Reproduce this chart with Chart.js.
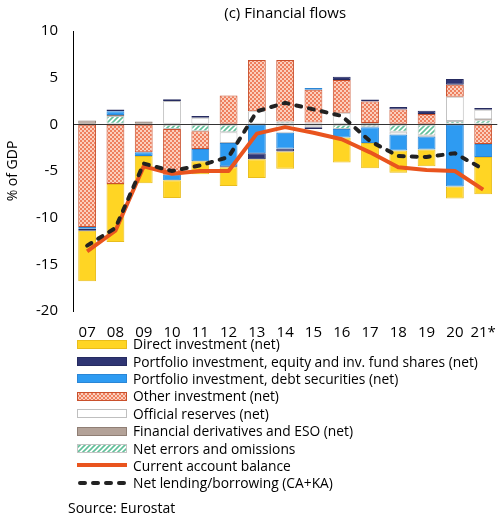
<!DOCTYPE html>
<html>
<head>
<meta charset="utf-8">
<script src="https://cdn.jsdelivr.net/npm/chart.js@4.4.1/dist/chart.umd.min.js"></script>
<style>
  body { margin: 0; background: #fff; font-family: "Open Sans", sans-serif; }
  #wrap { position: relative; width: 501px; height: 520px; }
  #chart { position: absolute; left: 0; top: 0; }
  #legend { position: absolute; left: 77px; top: 335px; }
  .row { display: flex; align-items: center; height: 17.4px; font-size: 13.8px; color: #000; white-space: nowrap; }
  .row canvas { width: 50px; height: 10px; margin-right: 6px; }
  #source { position: absolute; left: 68px; top: 498px; font-size: 14px; color: #000; }
</style>
</head>
<body>
<div id="wrap">
  <canvas id="chart" width="501" height="350"></canvas>
  <div id="legend"></div>
  <div id="source">Source: Eurostat</div>
</div>
<script>
// years on the x axis
const categories = ['07', '08', '09', '10', '11', '12', '13', '14', '15', '16', '17', '18', '19', '20', '21*'];
const yTicks = [10, 5, 0, -5, -10, -15, -20];

// financial account components, % of GDP
const directInvestment = [-5.4, -6.2, -2.9, -1.9, -1.4, -2.0, -2.0, -1.85, 0, -2.7, -2.7, -2.4, -1.8, -1.3, -4.0];
const portfolioEquity = [-0.2, 0.2, 0, 0.2, 0.2, -0.1, -0.65, -0.3, -0.2, 0.35, 0.2, 0.25, 0.35, 0.6, 0.2];
const portfolioDebt = [-0.2, 0.4, -0.4, -0.6, -1.3, -2.5, -3.1, -1.7, 0.2, -0.9, -1.7, -1.7, -1.4, -6.65, -1.4];
const otherInvestment = [-11.0, -6.4, -3.0, -4.9, -1.9, 3.1, 5.5, 6.6, 3.5, 3.5, 2.3, 1.6, 1.1, 1.3, -2.1];
const officialReserves = [0, 0, 0, 2.5, 0.7, -1.15, 1.4, -0.9, -0.3, 1.25, 0, -0.3, 0, 2.6, 1.0];
const derivatives = [0.4, 0.1, 0.3, 0, 0, 0, 0, 0, 0, 0, 0.15, 0, -0.1, 0, 0.1];
const errorsOmissions = [0, 0.9, 0, -0.5, -0.75, -0.85, 0, 0.3, 0.2, -0.5, -0.3, -0.8, -1.2, 0.35, 0.45];

// lines
const currentAccount = [-13.6, -11.4, -4.5, -5.3, -5.0, -5.0, -1.0, -0.3, -0.9, -1.6, -3.0, -4.6, -4.9, -5.0, -7.0];
const netLending = [-13.0, -11.1, -4.2, -5.0, -4.4, -3.5, 1.4, 2.3, 1.6, 0.9, -1.8, -3.4, -3.5, -3.1, -4.8];

const FONT = '"Open Sans", sans-serif';

// pattern fills
function checkerPattern() {
    const c = document.createElement('canvas');
    c.width = 4; c.height = 4;
    const g = c.getContext('2d');
    g.fillStyle = '#fbcfbd';
    g.fillRect(0, 0, 4, 4);
    g.fillStyle = '#ee7f5e';
    g.fillRect(0, 0, 2, 2);
    g.fillRect(2, 2, 2, 2);
    return g.createPattern(c, 'repeat');
}

function hatchPattern() {
    const c = document.createElement('canvas');
    c.width = 5; c.height = 5;
    const g = c.getContext('2d');
    g.fillStyle = '#ffffff';
    g.fillRect(0, 0, 5, 5);
    g.strokeStyle = '#62c09a';
    g.lineWidth = 1.6;
    g.beginPath();
    g.moveTo(-1, 6); g.lineTo(6, -1);
    g.moveTo(-1, 1); g.lineTo(1, -1);
    g.moveTo(4, 6); g.lineTo(6, 4);
    g.stroke();
    return g.createPattern(c, 'repeat');
}

const otherFill = checkerPattern();
const hatchFill = hatchPattern();

const barStyles = [
    { label: 'Net errors and omissions', data: errorsOmissions, fill: hatchFill, border: '#c4c4c4' },
    { label: 'Financial derivatives and ESO (net)', data: derivatives, fill: '#b3a298', border: '#8f7e74' },
    { label: 'Official reserves (net)', data: officialReserves, fill: '#ffffff', border: '#bfbfbf' },
    { label: 'Other investment (net)', data: otherInvestment, fill: otherFill, border: '#c9502c' },
    { label: 'Portfolio investment, debt securities (net)', data: portfolioDebt, fill: '#2e9bf2', border: '#2a86d6' },
    { label: 'Portfolio investment, equity and inv. fund shares (net)', data: portfolioEquity, fill: '#2f3573', border: '#262b60' },
    { label: 'Direct investment (net)', data: directInvestment, fill: '#ffd524', border: '#e9bd1c' }
];

const datasets = [
    {
        type: 'line', label: 'Net lending/borrowing (CA+KA)', data: netLending,
        borderColor: '#222222', borderWidth: 4, borderDash: [5, 8], borderCapStyle: 'round',
        pointRadius: 0, tension: 0, fill: false, stack: 'nl', order: 0
    },
    {
        type: 'line', label: 'Current account balance', data: currentAccount,
        borderColor: '#e9541e', borderWidth: 4, borderJoinStyle: 'round',
        pointRadius: 0, tension: 0, fill: false, stack: 'ca', order: 1
    }
];
barStyles.forEach(s => {
    datasets.push({
        type: 'bar', label: s.label,
        data: s.data.map(v => v === 0 ? null : v),
        backgroundColor: s.fill, borderColor: s.border, borderWidth: 1,
        borderSkipped: false, barPercentage: 0.63, categoryPercentage: 1, order: 2
    });
});

new Chart(document.getElementById('chart'), {
    data: { labels: categories, datasets: datasets },
    options: {
        responsive: false,
        animation: false,
        devicePixelRatio: 1,
        layout: { padding: 0 },
        plugins: {
            legend: { display: false },
            tooltip: { enabled: false },
            title: {
                display: true, text: '(c) Financial flows', fullSize: false,
                color: '#000', font: { family: FONT, size: 15, weight: 'normal' },
                padding: { top: 5, bottom: 8 }
            }
        },
        scales: {
            x: {
                stacked: true,
                grid: { display: false },
                border: { display: false },
                ticks: { color: '#000', font: { family: FONT, size: 15 }, padding: 5, maxRotation: 0, autoSkip: false },
                afterFit: scale => { scale.height = 39; }
            },
            y: {
                stacked: true,
                min: -20, max: 10,
                z: 1,
                afterBuildTicks: scale => { scale.ticks = yTicks.map(v => ({ value: v })); },
                grid: {
                    drawTicks: false,
                    color: c => (c.tick && c.tick.value === 0) ? '#333333' : 'rgba(0,0,0,0)',
                    lineWidth: 1
                },
                border: { display: true, color: '#000', width: 1 },
                ticks: { color: '#000', font: { family: FONT, size: 15 }, padding: 15 },
                title: {
                    display: true, text: '% of GDP', color: '#000',
                    font: { family: FONT, size: 14 }, padding: { top: 5, bottom: 0 }
                },
                afterFit: scale => { scale.width = 73; }
            }
        }
    }
});

// html legend
const legendItems = [
    { text: 'Direct investment (net)', fill: '#ffd524', border: '#e9bd1c' },
    { text: 'Portfolio investment, equity and inv. fund shares (net)', fill: '#2f3573', border: '#262b60' },
    { text: 'Portfolio investment, debt securities (net)', fill: '#2e9bf2', border: '#2a86d6' },
    { text: 'Other investment (net)', fill: otherFill, border: '#c9502c' },
    { text: 'Official reserves (net)', fill: '#ffffff', border: '#bfbfbf' },
    { text: 'Financial derivatives and ESO (net)', fill: '#b3a298', border: '#8f7e74' },
    { text: 'Net errors and omissions', fill: hatchFill, border: '#c4c4c4' },
    { text: 'Current account balance', line: '#e9541e' },
    { text: 'Net lending/borrowing (CA+KA)', line: '#222222', dash: true }
];

const legendEl = document.getElementById('legend');
legendItems.forEach(item => {
    const row = document.createElement('div');
    row.className = 'row';
    const sw = document.createElement('canvas');
    sw.width = 50; sw.height = 10;
    const g = sw.getContext('2d');
    if (item.line) {
        g.strokeStyle = item.line;
        g.lineWidth = 4;
        if (item.dash) {
            g.setLineDash([5, 8]);
            g.lineCap = 'round';
            g.beginPath(); g.moveTo(3, 5); g.lineTo(50, 5); g.stroke();
        } else {
            g.beginPath(); g.moveTo(0, 5); g.lineTo(50, 5); g.stroke();
        }
    } else {
        g.fillStyle = item.fill;
        g.fillRect(0.5, 1.5, 49, 8);
        g.strokeStyle = item.border;
        g.lineWidth = 1;
        g.strokeRect(0.5, 1.5, 49, 8);
    }
    row.appendChild(sw);
    const span = document.createElement('span');
    span.textContent = item.text;
    row.appendChild(span);
    legendEl.appendChild(row);
});
</script>
</body>
</html>
